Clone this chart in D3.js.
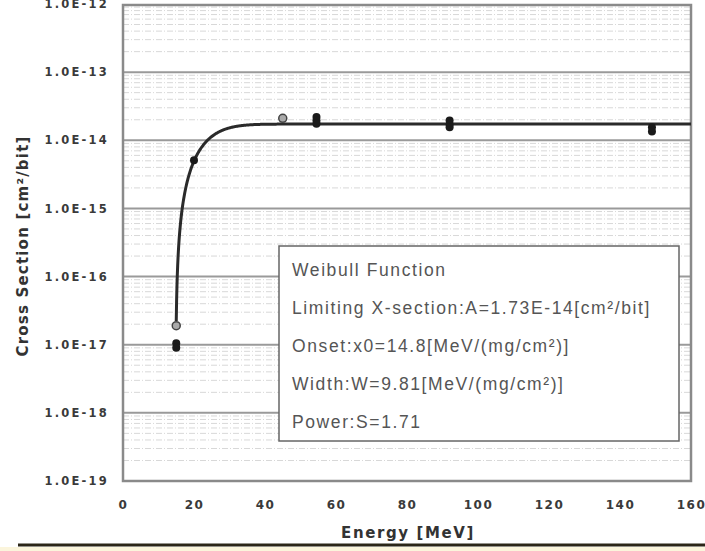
<!DOCTYPE html>
<html>
<head>
<meta charset="utf-8">
<script src="https://cdn.jsdelivr.net/npm/d3@7"></script>
<style>
  body { margin: 0; background: #fff; }
  svg { display: block; }
</style>
</head>
<body>
<svg id="chart" width="705" height="551"></svg>
<script>
// measured points, energy in MeV
const openPts = [[15, 1.9e-17], [45, 2.1e-14]];
const filledPts = [
  [15, 1.05e-17], [15, 0.9e-17], [20, 5.1e-15],
  [54.5, 2.2e-14], [54.5, 1.95e-14], [54.5, 1.75e-14],
  [92, 1.95e-14], [92, 1.7e-14], [92, 1.55e-14],
  [149, 1.55e-14], [149, 1.35e-14]
];
const xTicks = [0, 20, 40, 60, 80, 100, 120, 140, 160];
const yTicks = [1e-19, 1e-18, 1e-17, 1e-16, 1e-15, 1e-14, 1e-13, 1e-12];
const legendLines = [
  "Weibull Function",
  "Limiting X-section:A=1.73E-14[cm²/bit]",
  "Onset:x0=14.8[MeV/(mg/cm²)]",
  "Width:W=9.81[MeV/(mg/cm²)]",
  "Power:S=1.71"
];
// Weibull fit parameters from the legend
const A = 1.73e-14, x0 = 14.8, W = 9.81, S = 1.71;

const svg = d3.select("#chart");
const plotL = 123, plotR = 691, plotT = 4, plotB = 481;

const x = d3.scaleLinear().domain([0, 160]).range([plotL, plotR]);
const y = d3.scaleLog().domain([1e-19, 1e-12]).range([plotB, plotT]);

// minor grid
const minor = [];
for (let e = -19; e < -12; e++) {
  for (let m = 2; m <= 9; m++) minor.push(m * Math.pow(10, e));
}
svg.append("g").selectAll("line").data(minor).join("line")
  .attr("x1", plotL).attr("x2", plotR)
  .attr("y1", d => y(d)).attr("y2", d => y(d))
  .attr("stroke", "#d8d8d8").attr("stroke-width", 1)
  .attr("stroke-dasharray", "6,2,1,2");

// major grid
svg.append("g").selectAll("line").data(yTicks.slice(1, -1)).join("line")
  .attr("x1", plotL).attr("x2", plotR)
  .attr("y1", d => y(d)).attr("y2", d => y(d))
  .attr("stroke", "#9a9a9a").attr("stroke-width", 2);

// frame
svg.append("rect")
  .attr("x", plotL).attr("y", plotT + 1)
  .attr("width", plotR - plotL).attr("height", plotB - plotT - 1)
  .attr("fill", "none").attr("stroke", "#8a8a8a").attr("stroke-width", 2.5);

// y axis labels
const yAxis = d3.axisLeft(y).tickValues(yTicks).tickSize(0).tickPadding(14)
  .tickFormat(d => "1.0E-" + Math.round(-Math.log10(d)));
svg.append("g").attr("transform", `translate(${plotL},0)`).call(yAxis)
  .call(g => g.select(".domain").remove())
  .selectAll("text")
  .attr("font-family", "DejaVu Sans, sans-serif")
  .attr("font-weight", "bold").attr("font-size", 11.5)
  .attr("letter-spacing", 2.2).attr("fill", "#3a3a3a");

// x axis labels
const xAxis = d3.axisBottom(x).tickValues(xTicks).tickSize(0).tickPadding(19);
svg.append("g").attr("transform", `translate(0,${plotB})`).call(xAxis)
  .call(g => g.select(".domain").remove())
  .selectAll("text")
  .attr("font-family", "DejaVu Sans, sans-serif")
  .attr("font-weight", "bold").attr("font-size", 12)
  .attr("letter-spacing", 1.5).attr("fill", "#3a3a3a");

// axis titles
svg.append("text")
  .attr("x", 408).attr("y", 538)
  .attr("text-anchor", "middle")
  .attr("font-family", "DejaVu Sans, sans-serif")
  .attr("font-weight", "bold").attr("font-size", 15)
  .attr("letter-spacing", 1.6)
  .attr("fill", "#333")
  .text("Energy [MeV]");

svg.append("text")
  .attr("transform", "translate(28,246) rotate(-90)")
  .attr("text-anchor", "middle")
  .attr("font-family", "DejaVu Sans, sans-serif")
  .attr("font-weight", "bold").attr("font-size", 15)
  .attr("letter-spacing", 1.2)
  .attr("fill", "#333")
  .text("Cross Section [cm²/bit]");

// Weibull curve
const curveX = d3.range(15, 160.01, 0.1);
const weib = e => A * (1 - Math.exp(-Math.pow((e - x0) / W, S)));
svg.append("path")
  .datum(curveX)
  .attr("d", d3.line().x(d => x(d)).y(d => y(weib(d))))
  .attr("fill", "none").attr("stroke", "#2a2a2a").attr("stroke-width", 3);

// points
svg.append("g").selectAll("circle").data(filledPts).join("circle")
  .attr("cx", d => x(d[0])).attr("cy", d => y(d[1])).attr("r", 4)
  .attr("fill", "#1a1a1a");
svg.append("g").selectAll("circle").data(openPts).join("circle")
  .attr("cx", d => x(d[0])).attr("cy", d => y(d[1])).attr("r", 4)
  .attr("fill", "#aaa").attr("stroke", "#444").attr("stroke-width", 1.5);

// legend
const lg = svg.append("g");
lg.append("rect")
  .attr("x", 279).attr("y", 246).attr("width", 400).attr("height", 195)
  .attr("fill", "#fff").attr("stroke", "#666").attr("stroke-width", 1.5);
lg.selectAll("text").data(legendLines).join("text")
  .attr("x", 292).attr("y", (d, i) => 276 + i * 38)
  .attr("font-family", "Liberation Sans, Arial, sans-serif")
  .attr("font-size", 17.5).attr("fill", "#555")
  .attr("letter-spacing", 1.6)
  .text(d => d);

// page rule below the chart
svg.append("rect").attr("x", 0).attr("y", 547).attr("width", 705).attr("height", 4)
  .attr("fill", "#fbf5dc");
svg.append("line")
  .attr("x1", 18).attr("x2", 705).attr("y1", 545).attr("y2", 545)
  .attr("stroke", "#2b2618").attr("stroke-width", 3);
</script>
</body>
</html>
